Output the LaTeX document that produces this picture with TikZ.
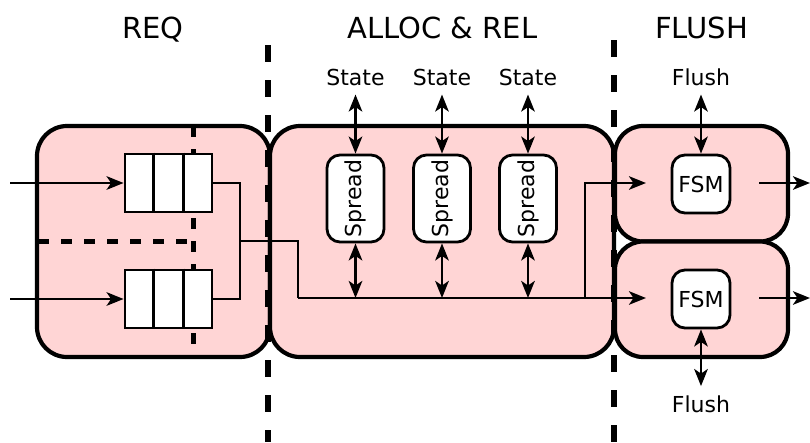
\documentclass[tikz,border=0pt]{standalone}
\usepackage{fontspec}
\setmainfont{DejaVu Sans}
\usetikzlibrary{arrows.meta,calc}
\definecolor{boxpink}{RGB}{255,213,213}
\begin{document}
\begin{tikzpicture}[x=1pt,y=-1pt,
  bigbox/.style={draw,line width=4.2pt,fill=boxpink,rounded corners=30pt,inner sep=0pt},
  smallbox/.style={draw,line width=2.8pt,fill=white,inner sep=0pt,font=\fontsize{22}{24}\selectfont},
  queuebox/.style={draw,line width=2.8pt,fill=white,inner sep=0pt,minimum width=87pt,minimum height=58pt},
  lbl/.style={inner sep=0pt,font=\fontsize{22}{24}\selectfont,anchor=base},
  title/.style={inner sep=0pt,font=\fontsize{29}{32}\selectfont,anchor=base},
  conn/.style={line width=2.6pt},
  tip/.tip={Stealth[length=17pt,width=13.5pt,inset=4.5pt]},
  arr/.style={line width=2.6pt,-tip},
  dbl/.style={line width=2.8pt,tip-tip},
  sep/.style={line width=6pt,dash pattern=on 17pt off 18pt},
  innerdash/.style={line width=5pt,dash pattern=on 11pt off 12pt}
]
\useasboundingbox (0,0) rectangle (810,442);

% titles
\node[title] (tReq) at (153,38) {REQ};
\node[title] (tAlloc) at (442.5,38) {ALLOC \& REL};
\node[title] (tFlush) at (701.5,38) {FLUSH};

% big boxes
\node[bigbox,minimum width=233pt,minimum height=231pt] (req) at (153.5,241.5) {};
\node[bigbox,minimum width=344pt,minimum height=231pt] (alloc) at (442,241.5) {};
\node[bigbox,minimum width=173pt,minimum height=115.5pt,rounded corners=28pt] (fl1) at (701.5,183.75) {};
\node[bigbox,minimum width=173pt,minimum height=115.5pt,rounded corners=28pt] (fl2) at (701.5,299.25) {};

% REQ inner dashed lines
\draw[innerdash] (193,126) -- (193,357);
\draw[innerdash] (38,241) -- (193,241);

% queues
\node[queuebox] (q1) at (168.5,183) {};
\node[queuebox] (q2) at (168.5,299) {};
\foreach \q in {q1,q2}{
  \draw[line width=2.8pt] ($(\q.north west)!1/3!(\q.north east)$) -- ($(\q.south west)!1/3!(\q.south east)$);
  \draw[line width=2.8pt] ($(\q.north west)!2/3!(\q.north east)$) -- ($(\q.south west)!2/3!(\q.south east)$);
}

% inputs
\coordinate (in1) at (10,183);
\coordinate (in2) at (10,299);
\draw[arr] (in1) -- (q1.west);
\draw[arr] (in2) -- (q2.west);

% merge and bus
\coordinate (m) at (240,241);
\coordinate (j1) at (298,241);
\coordinate (j2) at (298,298);
\coordinate (br) at (585,298);
\coordinate (f1in) at (646,183);
\coordinate (f2in) at (646,298);
\draw[conn] (q1.east) -| (m);
\draw[conn] (q2.east) -| (m);
\draw[conn] (m) -- (j1) -- (j2);
\draw[arr] (j2) -- (f2in);
\draw[arr] (br) |- (f1in);

% spread boxes
\foreach \i/\x in {1/355.5,2/442,3/528}{
  \node[smallbox,rounded corners=13pt,minimum width=57pt,minimum height=87pt] (sp\i) at (\x,198.5) {\rotatebox{90}{Spread}};
  \node[lbl] (st\i) at (\x,85) {State};
  \draw[dbl,shorten <=9pt] (st\i.south) -- (sp\i.north);
  \draw[dbl] (sp\i.south) -- (sp\i.south |- j2);
}

% FSMs
\node[smallbox,rounded corners=13pt,minimum width=58pt,minimum height=58pt] (fsm1) at (701,184) {FSM};
\node[smallbox,rounded corners=13pt,minimum width=58pt,minimum height=58pt] (fsm2) at (701,299) {FSM};
\node[lbl] (fls1) at (701,85) {Flush};
\node[lbl] (fls2) at (701,412) {Flush};
\draw[dbl,shorten <=9pt] (fls1.south) -- (fsm1.north);
\draw[dbl,shorten >=9pt] (fsm2.south) -- (fls2.north);

\coordinate (o1s) at (759,183);
\coordinate (o1e) at (810,183);
\coordinate (o2s) at (759,298);
\coordinate (o2e) at (810,298);
\draw[arr] (o1s) -- (o1e);
\draw[arr] (o2s) -- (o2e);

% separators
\draw[sep] (268,45) -- (268,442);
\draw[sep] (614,40) -- (614,442);
\end{tikzpicture}
\end{document}
